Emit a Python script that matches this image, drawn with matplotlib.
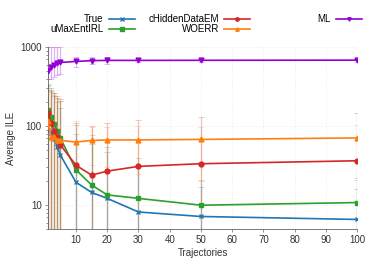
import numpy as np
import matplotlib as mpl
mpl.use('Agg')
import matplotlib.pyplot as plt

traj = [1, 2, 3, 4, 5, 10, 15, 20, 30, 50, 100]

# mean ILE per method
true_ile = [90, 82, 68, 55, 43, 19.5, 14.5, 12.2, 8.2, 7.2, 6.6]
umaxent = [158, 130, 108, 87, 71, 28, 18, 13.5, 12.2, 10.0, 10.8]
chidden = [145, 109, 87, 73, 58, 32, 24, 27, 31, 33.5, 36.5]
woerr = [115, 73, 72, 67, 66, 63, 66, 67, 67, 68, 71]
ml = [500, 560, 600, 630, 640, 660, 675, 680, 680, 682, 685]

# error bar ends (lower, upper)
true_lo = [1, 1, 1, 1, 1, 1, 1, 1, 1, 1, 1]
true_hi = [330, 280, 240, 200, 170, 80, 60, 47, 30, 17, 16]
umaxent_lo = [1, 1, 1, 1, 1, 1, 1, 1, 1, 1, 1]
umaxent_hi = [340, 300, 260, 230, 210, 105, 77, 55, 40, 21, 22]
chidden_lo = [1, 1, 1, 1, 1, 1, 1, 1, 1, 1, 1]
chidden_hi = [320, 290, 260, 240, 220, 110, 100, 109, 119, 130, 145]
woerr_lo = [1, 1, 1, 1, 1, 30, 32, 30, 25, 20, 21]
woerr_hi = [300, 270, 250, 230, 210, 115, 97, 97, 100, 97, 103]
ml_lo = [400, 400, 420, 440, 460, 560, 610, 620, 640, 640, 640]
ml_hi = [1000, 1000, 1000, 1000, 1000, 760, 740, 740, 730, 730, 730]

series = [
    ('True', true_ile, true_lo, true_hi, '#1f77b4', 'x'),
    ('uMaxEntIRL', umaxent, umaxent_lo, umaxent_hi, '#2ca02c', 's'),
    ('cHiddenDataEM', chidden, chidden_lo, chidden_hi, '#d62728', 'o'),
    ('WOERR', woerr, woerr_lo, woerr_hi, '#ff7f0e', '^'),
    ('ML', ml, ml_lo, ml_hi, '#9400d3', 'v'),
]

plt.rcParams['font.family'] = ['Liberation Sans', 'DejaVu Sans']
plt.rcParams['font.size'] = 7

fig = plt.figure(figsize=(3.74, 2.62), dpi=100)
ax = fig.add_axes([0.128, 0.126, 0.827, 0.694])

handles = {}
x = np.array(traj)
for name, y, lo, hi, col, mk in series:
    y = np.array(y, dtype=float)
    yerr = [y - np.array(lo), np.array(hi) - y]
    ax.errorbar(x, y, yerr=yerr, fmt='none', ecolor=col, alpha=0.3,
                elinewidth=0.9, capsize=2, capthick=0.6, zorder=1)
    ln, = ax.plot(x, y, color=col, marker=mk, markersize=3.5, lw=1.2,
                  markeredgewidth=1.0, zorder=3)
    handles[name] = ln

ax.set_yscale('log')
ax.set_xlim(1, 100)
ax.set_ylim(5, 1000)
ax.set_xticks([10, 20, 30, 40, 50, 60, 70, 80, 90, 100])
ax.set_yticks([10, 100, 1000])
ax.set_yticklabels(['10', '100', '1000'])
ax.grid(True, which='major', color='#dddddd', lw=0.4, ls=':')
ax.set_xlabel('Trajectories', color='#333333', labelpad=2)
ax.set_ylabel('Average ILE', color='#333333', labelpad=3)
for s in ['top', 'right']:
    ax.spines[s].set_visible(False)
for s in ['left', 'bottom']:
    ax.spines[s].set_color('#666666')
    ax.spines[s].set_linewidth(0.6)
ax.tick_params(which='both', colors='#666666', labelcolor='#333333',
               width=0.5, length=2.5, pad=2)
ax.tick_params(which='minor', length=1.5)

leg_kw = dict(frameon=False, markerfirst=False, handlelength=2.7,
              handletextpad=0.5, labelspacing=0.0, borderpad=0,
              borderaxespad=0, markerscale=0.7)
order = ['True', 'uMaxEntIRL', 'cHiddenDataEM', 'WOERR']
fig.legend([handles[n] for n in order], order, loc='upper right',
           bbox_to_anchor=(250 / 374, 1 - 14.5 / 262), ncol=2,
           columnspacing=1.4, **leg_kw)
fig.legend([handles['ML']], ['ML'], loc='upper right',
           bbox_to_anchor=(362 / 374, 1 - 14.5 / 262), **leg_kw)

plt.savefig('out.png', dpi=100)
